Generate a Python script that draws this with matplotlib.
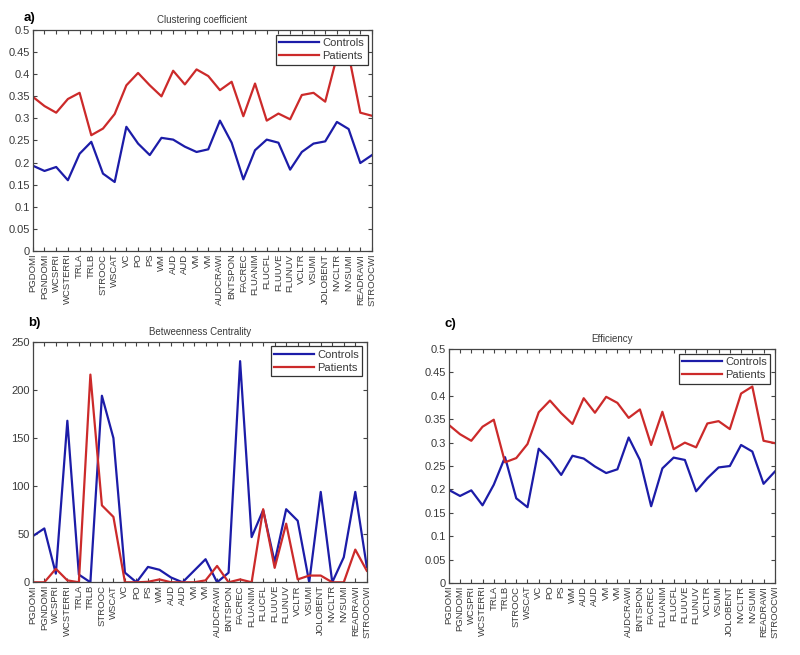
import matplotlib
matplotlib.use("Agg")
import matplotlib.pyplot as plt
import numpy as np

plt.rcParams["font.family"] = ["Liberation Sans", "DejaVu Sans"]

labels = ["PGDOMI", "PGNDOMI", "WCSPRI", "WCSTERRI", "TRLA", "TRLB", "STROOC", "WSCAT",
          "VC", "PO", "PS", "WM", "AUD", "AUD", "VM", "VM", "AUDCRAWI", "BNTSPON",
          "FACREC", "FLUANIM", "FLUCFL", "FLUUVE", "FLUNUV", "VCLTR", "VSUMI",
          "JOLOBENT", "NVCLTR", "NVSUMI", "READRAWI", "STROOCWI"]

clust_controls = [0.193, 0.181, 0.190, 0.160, 0.220, 0.247, 0.175, 0.156, 0.281, 0.243,
                  0.217, 0.256, 0.252, 0.236, 0.224, 0.230, 0.295, 0.245, 0.162, 0.228,
                  0.252, 0.245, 0.184, 0.224, 0.243, 0.248, 0.292, 0.276, 0.199, 0.217]
clust_patients = [0.349, 0.328, 0.313, 0.344, 0.358, 0.262, 0.277, 0.310, 0.375, 0.403,
                  0.375, 0.350, 0.408, 0.377, 0.411, 0.396, 0.364, 0.383, 0.305, 0.379,
                  0.295, 0.311, 0.298, 0.353, 0.358, 0.338, 0.440, 0.445, 0.313, 0.306]

btw_controls = [48, 56, 9, 168, 8, 0, 194, 150, 10, 0, 16, 13, 5, 0, 12, 24, 0, 10,
                230, 47, 75, 21, 76, 64, 0, 94, 0, 26, 94, 16]
btw_patients = [0, 0, 14, 2, 0, 216, 80, 68, 0, 0, 0.5, 3, 0, 0, 0, 2, 17, 0,
                3, 0, 76, 15, 61, 3, 7, 7, 0, 0, 34, 12]

eff_controls = [0.199, 0.186, 0.198, 0.166, 0.210, 0.269, 0.181, 0.162, 0.287, 0.263,
                0.231, 0.272, 0.266, 0.249, 0.235, 0.243, 0.311, 0.263, 0.164, 0.245,
                0.268, 0.263, 0.196, 0.224, 0.247, 0.250, 0.295, 0.281, 0.212, 0.238]
eff_patients = [0.338, 0.318, 0.304, 0.334, 0.349, 0.258, 0.267, 0.297, 0.365, 0.390,
                0.363, 0.340, 0.395, 0.364, 0.398, 0.385, 0.353, 0.371, 0.295, 0.366,
                0.286, 0.300, 0.290, 0.341, 0.346, 0.329, 0.405, 0.420, 0.304, 0.299]

BLUE = "#1c1ca8"
RED = "#cc2a2a"
TXT = "#3a3a3a"

fig = plt.figure(figsize=(8, 6.55), dpi=100)
x = np.arange(1, len(labels) + 1)


def panel(rect, c, p, title, ylim, yticks, yfmt, letter, letter_xy):
    ax = fig.add_axes(rect)
    ax.plot(x, c, color=BLUE, lw=1.6, label="Controls")
    ax.plot(x, p, color=RED, lw=1.6, label="Patients")
    ax.set_xlim(1, len(labels))
    ax.set_ylim(*ylim)
    ax.set_yticks(yticks)
    ax.set_yticklabels([yfmt(v) for v in yticks])
    ax.set_xticks(x)
    ax.set_xticklabels(labels, rotation=90, fontsize=6.8, color=TXT)
    ax.tick_params(axis="y", labelsize=8, labelcolor=TXT)
    ax.tick_params(direction="in", top=True, right=True, length=3, width=0.8, color="#444444", pad=2)
    for s in ax.spines.values():
        s.set_color("#444444")
        s.set_linewidth(0.9)
    ax.set_title(title, fontsize=7, color=TXT, pad=5)
    leg = ax.legend(loc="upper right", fontsize=8, fancybox=False, framealpha=1,
                    edgecolor="#333333", borderpad=0.3, handlelength=3.6,
                    labelspacing=0.3, handletextpad=0.3, borderaxespad=0.4)
    leg.get_frame().set_linewidth(0.9)
    for t in leg.get_texts():
        t.set_color(TXT)
    fig.text(letter_xy[0], letter_xy[1], letter, fontsize=9.5, fontweight="bold",
             transform=fig.transFigure)
    return ax


def fmt_dec(v):
    s = ("%.2f" % v).rstrip("0").rstrip(".")
    return s if s else "0"


panel([0.041, 0.617, 0.424, 0.337], clust_controls, clust_patients,
      "Clustering coefficient", (0, 0.5), np.round(np.arange(0, 0.501, 0.05), 2),
      fmt_dec, "a)", (0.030, 0.968))
panel([0.041, 0.111, 0.4175, 0.367], btw_controls, btw_patients,
      "Betweenness Centrality", (0, 250), np.arange(0, 251, 50),
      lambda v: "%d" % v, "b)", (0.035, 0.503))
panel([0.561, 0.110, 0.4075, 0.357], eff_controls, eff_patients,
      "Efficiency", (0, 0.5), np.round(np.arange(0, 0.501, 0.05), 2),
      fmt_dec, "c)", (0.555, 0.500))

fig.savefig("out.png", dpi=100, facecolor="white")
